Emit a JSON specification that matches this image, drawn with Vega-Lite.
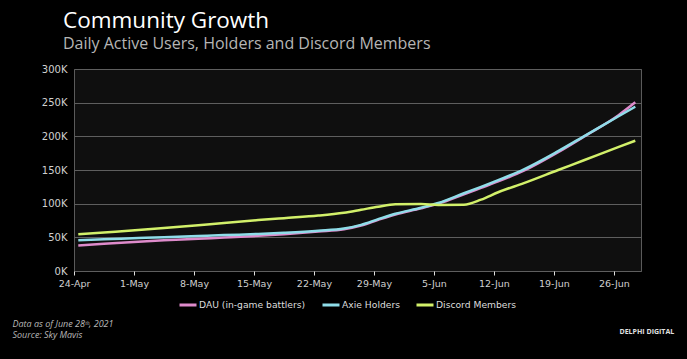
{
  "$schema": "https://vega.github.io/schema/vega-lite/v6.json",
  "autosize": {"type": "none"},
  "padding": {"left": 74, "top": 69, "right": 46, "bottom": 88},
  "width": 567,
  "height": 202,
  "background": "#000000",
  "title": {
    "text": "Community Growth",
    "subtitle": "Daily Active Users, Holders and Discord Members",
    "anchor": "start",
    "frame": "group",
    "dx": -11,
    "offset": 12,
    "font": "Open Sans",
    "fontSize": 22.5,
    "fontWeight": "normal",
    "color": "#ffffff",
    "subtitleFont": "Open Sans",
    "subtitleFontSize": 16,
    "subtitleColor": "#b5b5b5",
    "subtitlePadding": 4
  },
  "config": {
    "font": "Open Sans",
    "view": {"fill": "#0f0f0f", "stroke": "#5a5a5a", "strokeWidth": 1}
  },
  "data": {
    "values": [
      {"date": "2021-04-24T12:00:00Z", "series": "DAU (in-game battlers)", "value": 38000},
      {"date": "2021-04-27T12:00:00Z", "series": "DAU (in-game battlers)", "value": 40500},
      {"date": "2021-05-01T12:00:00Z", "series": "DAU (in-game battlers)", "value": 43500},
      {"date": "2021-05-04T12:00:00Z", "series": "DAU (in-game battlers)", "value": 45500},
      {"date": "2021-05-08T12:00:00Z", "series": "DAU (in-game battlers)", "value": 47800},
      {"date": "2021-05-11T12:00:00Z", "series": "DAU (in-game battlers)", "value": 49600},
      {"date": "2021-05-15T12:00:00Z", "series": "DAU (in-game battlers)", "value": 52200},
      {"date": "2021-05-18T12:00:00Z", "series": "DAU (in-game battlers)", "value": 54600},
      {"date": "2021-05-22T12:00:00Z", "series": "DAU (in-game battlers)", "value": 58600},
      {"date": "2021-05-25T12:00:00Z", "series": "DAU (in-game battlers)", "value": 62000},
      {"date": "2021-05-27T12:00:00Z", "series": "DAU (in-game battlers)", "value": 67500},
      {"date": "2021-05-29T12:00:00Z", "series": "DAU (in-game battlers)", "value": 76000},
      {"date": "2021-05-31T12:00:00Z", "series": "DAU (in-game battlers)", "value": 84000},
      {"date": "2021-06-03T12:00:00Z", "series": "DAU (in-game battlers)", "value": 93000},
      {"date": "2021-06-05T12:00:00Z", "series": "DAU (in-game battlers)", "value": 100000},
      {"date": "2021-06-08T12:00:00Z", "series": "DAU (in-game battlers)", "value": 114000},
      {"date": "2021-06-10T12:00:00Z", "series": "DAU (in-game battlers)", "value": 123500},
      {"date": "2021-06-12T12:00:00Z", "series": "DAU (in-game battlers)", "value": 133000},
      {"date": "2021-06-15T12:00:00Z", "series": "DAU (in-game battlers)", "value": 149000},
      {"date": "2021-06-19T12:00:00Z", "series": "DAU (in-game battlers)", "value": 176500},
      {"date": "2021-06-22T12:00:00Z", "series": "DAU (in-game battlers)", "value": 199500},
      {"date": "2021-06-26T12:00:00Z", "series": "DAU (in-game battlers)", "value": 231000},
      {"date": "2021-06-28T12:00:00Z", "series": "DAU (in-game battlers)", "value": 250500},
      {"date": "2021-04-24T12:00:00Z", "series": "Axie Holders", "value": 45600},
      {"date": "2021-04-27T12:00:00Z", "series": "Axie Holders", "value": 47000},
      {"date": "2021-05-01T12:00:00Z", "series": "Axie Holders", "value": 48900},
      {"date": "2021-05-04T12:00:00Z", "series": "Axie Holders", "value": 50300},
      {"date": "2021-05-08T12:00:00Z", "series": "Axie Holders", "value": 51900},
      {"date": "2021-05-11T12:00:00Z", "series": "Axie Holders", "value": 53300},
      {"date": "2021-05-15T12:00:00Z", "series": "Axie Holders", "value": 55000},
      {"date": "2021-05-18T12:00:00Z", "series": "Axie Holders", "value": 56800},
      {"date": "2021-05-22T12:00:00Z", "series": "Axie Holders", "value": 59800},
      {"date": "2021-05-25T12:00:00Z", "series": "Axie Holders", "value": 63000},
      {"date": "2021-05-27T12:00:00Z", "series": "Axie Holders", "value": 68500},
      {"date": "2021-05-29T12:00:00Z", "series": "Axie Holders", "value": 77000},
      {"date": "2021-05-31T12:00:00Z", "series": "Axie Holders", "value": 85000},
      {"date": "2021-06-03T12:00:00Z", "series": "Axie Holders", "value": 94000},
      {"date": "2021-06-05T12:00:00Z", "series": "Axie Holders", "value": 101000},
      {"date": "2021-06-08T12:00:00Z", "series": "Axie Holders", "value": 115500},
      {"date": "2021-06-10T12:00:00Z", "series": "Axie Holders", "value": 125000},
      {"date": "2021-06-12T12:00:00Z", "series": "Axie Holders", "value": 135000},
      {"date": "2021-06-15T12:00:00Z", "series": "Axie Holders", "value": 151000},
      {"date": "2021-06-19T12:00:00Z", "series": "Axie Holders", "value": 178000},
      {"date": "2021-06-22T12:00:00Z", "series": "Axie Holders", "value": 200000},
      {"date": "2021-06-26T12:00:00Z", "series": "Axie Holders", "value": 229500},
      {"date": "2021-06-28T12:00:00Z", "series": "Axie Holders", "value": 244000},
      {"date": "2021-04-24T12:00:00Z", "series": "Discord Members", "value": 54500},
      {"date": "2021-04-27T12:00:00Z", "series": "Discord Members", "value": 57200},
      {"date": "2021-05-01T12:00:00Z", "series": "Discord Members", "value": 60800},
      {"date": "2021-05-04T12:00:00Z", "series": "Discord Members", "value": 63800},
      {"date": "2021-05-08T12:00:00Z", "series": "Discord Members", "value": 68000},
      {"date": "2021-05-11T12:00:00Z", "series": "Discord Members", "value": 71400},
      {"date": "2021-05-15T12:00:00Z", "series": "Discord Members", "value": 75600},
      {"date": "2021-05-18T12:00:00Z", "series": "Discord Members", "value": 78500},
      {"date": "2021-05-22T12:00:00Z", "series": "Discord Members", "value": 82300},
      {"date": "2021-05-25T12:00:00Z", "series": "Discord Members", "value": 86600},
      {"date": "2021-05-27T12:00:00Z", "series": "Discord Members", "value": 91000},
      {"date": "2021-05-29T12:00:00Z", "series": "Discord Members", "value": 95500},
      {"date": "2021-05-31T12:00:00Z", "series": "Discord Members", "value": 99000},
      {"date": "2021-06-03T12:00:00Z", "series": "Discord Members", "value": 99500},
      {"date": "2021-06-05T12:00:00Z", "series": "Discord Members", "value": 98200},
      {"date": "2021-06-08T12:00:00Z", "series": "Discord Members", "value": 98500},
      {"date": "2021-06-10T12:00:00Z", "series": "Discord Members", "value": 106000},
      {"date": "2021-06-12T12:00:00Z", "series": "Discord Members", "value": 117000},
      {"date": "2021-06-15T12:00:00Z", "series": "Discord Members", "value": 130500},
      {"date": "2021-06-19T12:00:00Z", "series": "Discord Members", "value": 150000},
      {"date": "2021-06-22T12:00:00Z", "series": "Discord Members", "value": 164500},
      {"date": "2021-06-26T12:00:00Z", "series": "Discord Members", "value": 184000},
      {"date": "2021-06-28T12:00:00Z", "series": "Discord Members", "value": 193500}
    ]
  },
  "mark": {"type": "line", "strokeWidth": 2.5, "interpolate": "monotone"},
  "encoding": {
    "x": {
      "field": "date",
      "type": "temporal",
      "scale": {
        "type": "utc",
        "domain": [
          {"year": 2021, "month": "apr", "date": 24, "utc": true},
          {"year": 2021, "month": "jun", "date": 29, "hours": 4, "utc": true}
        ]
      },
      "axis": {
        "values": [
          {"year": 2021, "month": "apr", "date": 24, "utc": true},
          {"year": 2021, "month": "may", "date": 1, "utc": true},
          {"year": 2021, "month": "may", "date": 8, "utc": true},
          {"year": 2021, "month": "may", "date": 15, "utc": true},
          {"year": 2021, "month": "may", "date": 22, "utc": true},
          {"year": 2021, "month": "may", "date": 29, "utc": true},
          {"year": 2021, "month": "jun", "date": 5, "utc": true},
          {"year": 2021, "month": "jun", "date": 12, "utc": true},
          {"year": 2021, "month": "jun", "date": 19, "utc": true},
          {"year": 2021, "month": "jun", "date": 26, "utc": true}
        ],
        "labelExpr": "utcFormat(datum.value, '%-d-%b')",
        "labelFlush": false,
        "labelOverlap": false,
        "grid": false,
        "domain": false,
        "ticks": true,
        "tickColor": "#dddddd",
        "tickSize": 4,
        "labelColor": "#d0d0d0",
        "labelFont": "DejaVu Sans",
        "labelFontSize": 9.5,
        "labelPadding": 3,
        "labelDx": 3,
        "title": ["Data as of June 28ᵗʰ, 2021", "Source: Sky Mavis"],
        "titleFont": "Open Sans",
        "titleFontStyle": "italic",
        "titleFontWeight": "normal",
        "titleFontSize": 9,
        "titleColor": "#b8b8b8",
        "titleAlign": "left",
        "titleAnchor": "start",
        "titleBaseline": "top",
        "titleLineHeight": 11.5,
        "titleX": -62,
        "titleY": 48
      }
    },
    "y": {
      "field": "value",
      "type": "quantitative",
      "scale": {"domain": [0, 300000], "nice": false},
      "axis": {
        "values": [0, 50000, 100000, 150000, 200000, 250000, 300000],
        "labelExpr": "datum.value / 1000 + 'K'",
        "grid": true,
        "gridColor": "#5e5e5e",
        "gridWidth": 1,
        "domain": false,
        "ticks": false,
        "labelColor": "#d0d0d0",
        "labelFont": "DejaVu Sans",
        "labelFontSize": 10,
        "labelPadding": 7,
        "title": "DELPHI DIGITAL",
        "titleFont": "Open Sans",
        "titleAngle": 0,
        "titleFontSize": 7,
        "titleFontWeight": "bold",
        "titleColor": "#e0e0e0",
        "titleAlign": "left",
        "titleBaseline": "middle",
        "titleX": 545,
        "titleY": 262
      }
    },
    "color": {
      "field": "series",
      "type": "nominal",
      "scale": {
        "domain": ["DAU (in-game battlers)", "Axie Holders", "Discord Members"],
        "range": ["#de8bcb", "#8fdde9", "#d2f06a"]
      },
      "legend": {
        "orient": "none",
        "legendX": 104,
        "legendY": 226,
        "direction": "horizontal",
        "title": null,
        "symbolType": "stroke",
        "symbolStrokeWidth": 3,
        "symbolSize": 289,
        "labelColor": "#dddddd",
        "labelFont": "DejaVu Sans",
        "labelFontSize": 9.2,
        "labelOffset": 1,
        "columnPadding": 10
      }
    }
  }
}
